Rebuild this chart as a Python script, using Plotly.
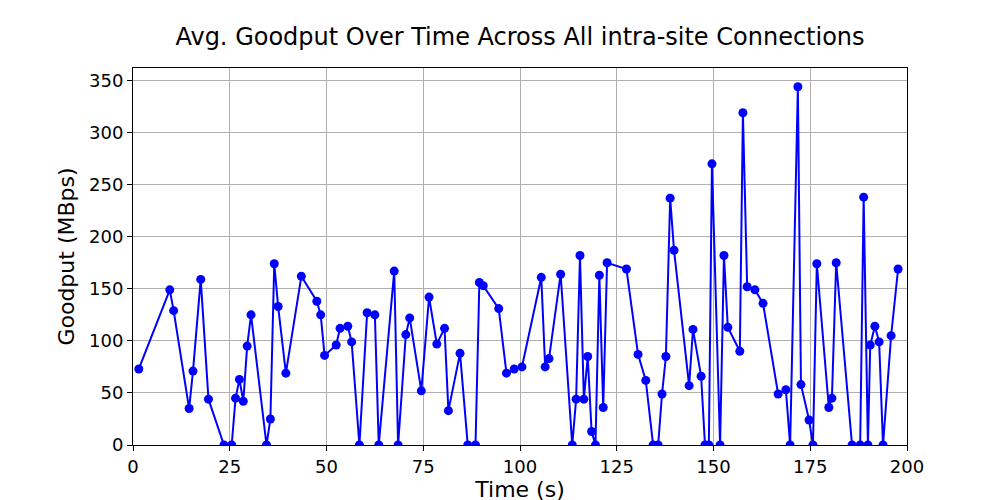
import plotly.graph_objects as go

time_s = [1.5, 9.5, 10.5, 14.5, 15.5, 17.5, 19.5, 23.5, 25.5, 26.5, 27.5, 28.5, 29.5, 30.5,
          34.5, 35.5, 36.5, 37.5, 39.5, 43.5, 47.5, 48.5, 49.5, 52.5, 53.5, 55.5, 56.5, 58.5,
          60.5, 62.5, 63.5, 67.5, 68.5, 70.5, 71.5, 74.5, 76.5, 78.5, 80.5, 81.5, 84.5, 86.5,
          88.5, 89.5, 90.5, 94.5, 96.5, 98.5, 100.5, 105.5, 106.5, 107.5, 110.5, 113.5, 114.5,
          115.5, 116.5, 117.5, 118.5, 119.5, 120.5, 121.5, 122.5, 127.5, 130.5, 132.5, 134.4,
          135.7, 136.7, 137.7, 138.8, 139.8, 143.7, 144.7, 146.8, 147.8, 148.8, 149.6, 151.7,
          152.7, 153.7, 156.8, 157.6, 158.7, 160.7, 162.8, 166.7, 168.7, 169.8, 171.8, 172.6,
          174.7, 175.7, 176.7, 179.8, 180.6, 181.7, 185.8, 187.9, 188.8, 189.9, 190.5, 191.7,
          192.8, 193.8, 195.9, 197.7]
goodput = [73, 149, 129, 35, 71, 159, 44, 0, 0, 45, 63, 42, 95, 125,
           0, 25, 174, 133, 69, 162, 138, 125, 86, 96, 112, 114, 99, 0,
           127, 125, 0, 167, 0, 106, 122, 52, 142, 97, 112, 33, 88, 0,
           0, 156, 153, 131, 69, 73, 75, 161, 75, 83, 164, 0, 44,
           182, 44, 85, 13, 0, 163, 36, 175, 169, 87, 62, 0,
           0, 49, 85, 237, 187, 57, 111, 66, 0, 0, 270, 0,
           182, 113, 90, 319, 152, 149, 136, 49, 53, 0, 344, 58,
           24, 0, 174, 36, 45, 175, 0, 0, 238, 0, 96, 114,
           99, 0, 105, 169]

fig = go.Figure()
fig.add_trace(go.Scatter(x=time_s, y=goodput, mode="lines+markers",
                         line=dict(color="blue", width=2),
                         marker=dict(color="blue", size=9)))

axis = dict(showgrid=True, gridcolor="#b0b0b0", gridwidth=1, showline=True, mirror=True,
            linecolor="black", linewidth=1, ticks="outside", ticklen=5, tickcolor="black",
            zeroline=False, tickfont=dict(size=18))
fig.update_xaxes(axis, range=[0, 200], dtick=25,
                 title=dict(text="Time (s)", font=dict(size=22), standoff=4))
fig.update_yaxes(axis, range=[0, 362], dtick=50,
                 title=dict(text="Goodput (MBps)", font=dict(size=22), standoff=8))
fig.update_layout(
    width=1000, height=500,
    title=dict(text="Avg. Goodput Over Time Across All intra-site Connections",
               x=0.512, xanchor="center", y=0.96, font=dict(size=24, color="black")),
    font=dict(family="DejaVu Sans", color="black"),
    plot_bgcolor="white", paper_bgcolor="white",
    showlegend=False,
    margin=dict(l=125, r=101, t=60, b=55),
)
fig.write_html("out.html")
